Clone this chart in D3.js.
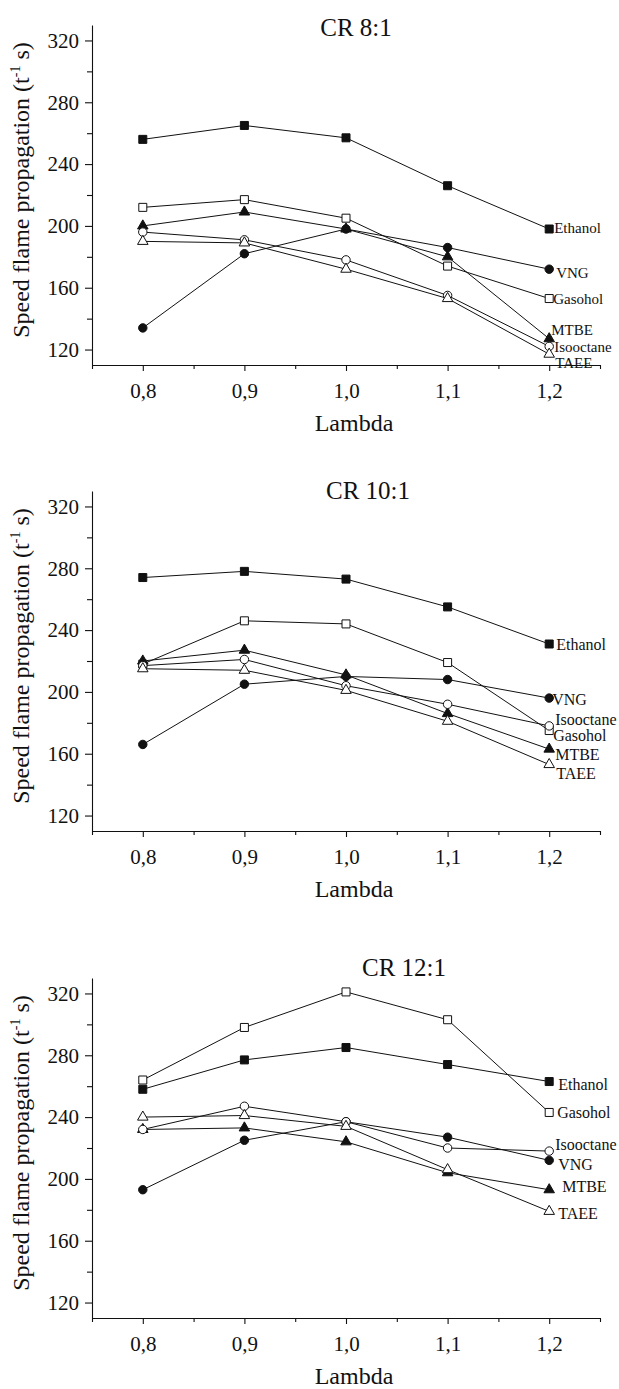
<!DOCTYPE html>
<html>
<head>
<meta charset="utf-8">
<script src="https://cdn.jsdelivr.net/npm/d3@7/dist/d3.min.js"></script>
<style>
    html, body { margin: 0; padding: 0; background: #fff; }
    svg { display: block; }
</style>
</head>
<body>
<div id="chart"></div>
<script>
// lambda values on the x axis
const lambda = [0.8, 0.9, 1.0, 1.1, 1.2];
const xMajor = [0.8, 0.9, 1.0, 1.1, 1.2];
const xMinor = [0.75, 0.85, 0.95, 1.05, 1.15, 1.25];
const yMajor = [120, 160, 200, 240, 280, 320];
const yMinor = [140, 180, 220, 260, 300];

const fuels = ["Ethanol", "Gasohol", "MTBE", "VNG", "Isooctane", "TAEE"];
const titles = ["CR 8:1", "CR 10:1", "CR 12:1"];

// CR 8:1
const ethanol8 = [256, 265, 257, 226, 198];
const gasohol8 = [212, 217, 205, 174, 153];
const mtbe8 = [200, 209, 198, 180, 127];
const vng8 = [134, 182, 198, 186, 172];
const isooctane8 = [196, 191, 178, 155, 122];
const taee8 = [190, 189, 172, 153, 117];

// CR 10:1
const ethanol10 = [274, 278, 273, 255, 231];
const gasohol10 = [218, 246, 244, 219, 175];
const mtbe10 = [220, 227, 211, 186, 163];
const vng10 = [166, 205, 210, 208, 196];
const isooctane10 = [217, 221, 204, 192, 178];
const taee10 = [215, 214, 201, 181, 153];

// CR 12:1
const ethanol12 = [258, 277, 285, 274, 263];
const gasohol12 = [264, 298, 321, 303, 243];
const mtbe12 = [232, 233, 224, 204, 193];
const vng12 = [193, 225, 237, 227, 212];
const isooctane12 = [232, 247, 237, 220, 218];
const taee12 = [240, 241, 234, 206, 179];

const seriesByPanel = [
    [ethanol8, gasohol8, mtbe8, vng8, isooctane8, taee8],
    [ethanol10, gasohol10, mtbe10, vng10, isooctane10, taee10],
    [ethanol12, gasohol12, mtbe12, vng12, isooctane12, taee12]
];

/** Layout, kept apart from the data */
const width = 619,
      height = 1389;
const panelTop = [25, 491, 978],
      panelH = 340,
      left = 92,
      right = 600;
const titleX = [356, 368, 404],
      titleDy = [11, 8, -2];
const labelSize = [15, 16, 16];

// marker style per fuel: [shape, filled]
const markers = {
    Ethanol: ["square", true],
    Gasohol: ["square", false],
    MTBE: ["triangle", true],
    VNG: ["circle", true],
    Isooctane: ["circle", false],
    TAEE: ["triangle", false]
};

// nudges for the end labels [dx, dy] per panel
const labelNudge = [
    {Ethanol: [5, -1], Gasohol: [4, 0], MTBE: [2, -9], VNG: [7, 4], Isooctane: [5, 0], TAEE: [6, 9]},
    {Ethanol: [7, 0], Gasohol: [4, 5], MTBE: [6, 5], VNG: [3, 1], Isooctane: [6, -7], TAEE: [7, 9]},
    {Ethanol: [9, 3], Gasohol: [8, 0], MTBE: [13, -3], VNG: [9, 4], Isooctane: [6, -7], TAEE: [9, 2]}
];

const ink = "#111";
const serif = "'Liberation Serif', 'Times New Roman', Times, serif";

const svg = d3.select("#chart").append("svg")
    .attr("width", width)
    .attr("height", height)
    .style("font-family", serif);

const x = d3.scaleLinear().domain([0.75, 1.25]).range([left, right]);
const fmt = d => d3.format(".1f")(d).replace(".", ",");

const sym = {
    square: d3.symbol().type(d3.symbolSquare).size(64),
    circle: d3.symbol().type(d3.symbolCircle).size(56),
    triangle: d3.symbol().type(d3.symbolTriangle).size(48)
};

titles.forEach((title, p) => {
    const top = panelTop[p],
          bottom = top + panelH;
    const y = d3.scaleLinear().domain([110, 330]).range([bottom, top]);
    const g = svg.append("g");

    // axes: minor ticks first, then the labelled ones
    const styleAxis = sel => {
        sel.selectAll("path, line").attr("stroke", ink).attr("stroke-width", 1.1);
        sel.selectAll("text").attr("fill", ink).style("font-size", "21px").style("font-family", serif);
    };

    g.append("g").attr("transform", `translate(0,${bottom})`)
        .call(d3.axisBottom(x).tickValues(xMinor).tickSize(4).tickSizeOuter(0).tickFormat(""))
        .call(styleAxis);
    g.append("g").attr("transform", `translate(0,${bottom})`)
        .call(d3.axisBottom(x).tickValues(xMajor).tickSize(6).tickSizeOuter(0).tickPadding(12).tickFormat(fmt))
        .call(styleAxis)
        .select(".domain").remove();

    g.append("g").attr("transform", `translate(${left},0)`)
        .call(d3.axisLeft(y).tickValues(yMinor).tickSize(5).tickSizeOuter(0).tickFormat(""))
        .call(styleAxis);
    g.append("g").attr("transform", `translate(${left},0)`)
        .call(d3.axisLeft(y).tickValues(yMajor).tickSize(7).tickSizeOuter(0).tickPadding(6))
        .call(styleAxis)
        .select(".domain").remove();

    // titles
    g.append("text")
        .attr("x", titleX[p])
        .attr("y", top + titleDy[p])
        .attr("text-anchor", "middle")
        .attr("fill", ink)
        .style("font-size", "25px")
        .text(title);

    g.append("text")
        .attr("x", (left + right) / 2 + 8)
        .attr("y", bottom + 66)
        .attr("text-anchor", "middle")
        .attr("fill", ink)
        .style("font-size", "24px")
        .text("Lambda");

    const yl = g.append("text")
        .attr("transform", `translate(29,${(top + bottom) / 2 - 5}) rotate(-90)`)
        .attr("text-anchor", "middle")
        .attr("fill", ink)
        .style("font-size", "24px");
    yl.append("tspan").text("Speed flame propagation (t");
    yl.append("tspan").attr("dy", -9).style("font-size", "14px").text("-1");
    yl.append("tspan").attr("dy", 9).text(" s)");

    const line = d3.line()
        .x((d, i) => x(lambda[i]))
        .y(d => y(d));

    const series = seriesByPanel[p];

    // lines under the markers
    g.append("g")
        .selectAll("path")
        .data(series)
        .join("path")
        .attr("d", line)
        .attr("fill", "none")
        .attr("stroke", ink)
        .attr("stroke-width", 1);

    series.forEach((vals, s) => {
        const name = fuels[s],
              [shape, filled] = markers[name];
        g.append("g")
            .selectAll("path")
            .data(vals)
            .join("path")
            .attr("transform", (d, i) => `translate(${x(lambda[i])},${y(d)})`)
            .attr("d", sym[shape])
            .attr("fill", filled ? ink : "#fff")
            .attr("stroke", ink)
            .attr("stroke-width", 1);

        const last = vals.length - 1,
              [dx, dy] = labelNudge[p][name];
        g.append("text")
            .attr("x", x(lambda[last]) + dx)
            .attr("y", y(vals[last]) + dy)
            .attr("dy", "0.35em")
            .attr("fill", ink)
            .style("font-size", labelSize[p] + "px")
            .text(name);
    });
});
</script>
</body>
</html>
